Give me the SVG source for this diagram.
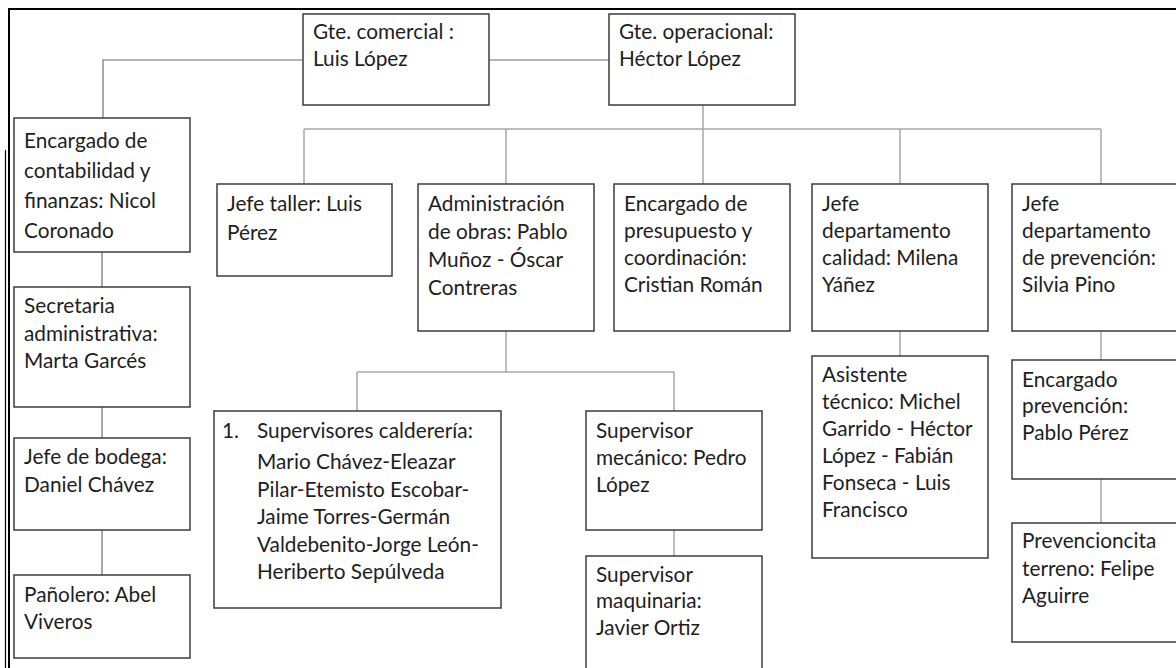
<svg xmlns="http://www.w3.org/2000/svg" width="1176" height="668" viewBox="0 0 1176 668">
<style>
.box{fill:#fff;stroke:#3c3c3c;stroke-width:1.5}
.c1{fill:none;stroke:#6e6e6e;stroke-width:1.2}
.c2{fill:none;stroke:#a8a8a8;stroke-width:1.5}
text{font-family:Lato,"Open Sans",sans-serif;font-size:20.8px;fill:#1e1e1e}
</style>
<rect width="1176" height="668" fill="#fff"/>
<g id="frame">
<line x1="8" y1="9" x2="1176" y2="9" stroke="#000" stroke-width="2"/>
<line x1="9" y1="8" x2="9" y2="668" stroke="#000" stroke-width="2"/>
<line x1="5.5" y1="150" x2="5.5" y2="668" stroke="#000" stroke-width="1.2"/>
</g>
<g id="connectors">
<path class="c1" d="M489 60H609"/>
<path class="c1" d="M303 60H103V118"/>
<path class="c1" d="M102 252V287M102 407V438M102 530V575"/>
<path class="c2" d="M703 105V184M304 129H1101M304 129V184M506 129V184M900 129V184M1101 129V184"/>
<path class="c2" d="M506 331V372M357 372H674M357 372V411M674 372V411M674 530V556"/>
<path class="c2" d="M900 331V356M1101 331V360M1101 479V523"/>
</g>
<g id="gte-comercial"><rect class="box" x="303" y="14" width="186" height="91"/><text x="313" y="39">Gte. comercial :</text><text x="313" y="66">Luis López</text></g>
<g id="gte-operacional"><rect class="box" x="609" y="14" width="186" height="91"/><text x="619" y="39">Gte. operacional:</text><text x="619" y="66">Héctor López</text></g>
<g id="contabilidad"><rect class="box" x="14" y="118" width="176" height="134"/><text x="24" y="148">Encargado de</text><text x="24" y="178">contabilidad y</text><text x="24" y="208">finanzas: Nicol</text><text x="24" y="238">Coronado</text></g>
<g id="secretaria"><rect class="box" x="14" y="287" width="176" height="120"/><text x="24" y="313">Secretaria</text><text x="24" y="341">administrativa:</text><text x="24" y="368">Marta Garcés</text></g>
<g id="bodega"><rect class="box" x="14" y="438" width="176" height="92"/><text x="24" y="464">Jefe de bodega:</text><text x="24" y="492">Daniel Chávez</text></g>
<g id="panolero"><rect class="box" x="14" y="575" width="176" height="83"/><text x="24" y="602">Pañolero: Abel</text><text x="24" y="629">Viveros</text></g>
<g id="taller"><rect class="box" x="217" y="184" width="175" height="92"/><text x="227" y="211">Jefe taller: Luis</text><text x="227" y="240">Pérez</text></g>
<g id="obras"><rect class="box" x="418" y="184" width="176" height="147"/><text x="428" y="211">Administración</text><text x="428" y="239">de obras: Pablo</text><text x="428" y="267">Muñoz - Óscar</text><text x="428" y="295">Contreras</text></g>
<g id="presupuesto"><rect class="box" x="614" y="184" width="176" height="147"/><text x="624" y="211">Encargado de</text><text x="624" y="238">presupuesto y</text><text x="624" y="265">coordinación:</text><text x="624" y="292">Cristian Román</text></g>
<g id="calidad"><rect class="box" x="812" y="184" width="176" height="147"/><text x="822" y="211">Jefe</text><text x="822" y="238">departamento</text><text x="822" y="265">calidad: Milena</text><text x="822" y="292">Yáñez</text></g>
<g id="prevencion"><rect class="box" x="1012" y="184" width="180" height="147"/><text x="1022" y="211">Jefe</text><text x="1022" y="238">departamento</text><text x="1022" y="265">de prevención:</text><text x="1022" y="292">Silvia Pino</text></g>
<g id="caldereria"><rect class="box" x="214" y="411" width="287" height="197"/><text x="222" y="438">1.</text><text x="257" y="438">Supervisores calderería:</text><text x="257" y="469">Mario Chávez-Eleazar</text><text x="257" y="497">Pilar-Etemisto Escobar-</text><text x="257" y="524">Jaime Torres-Germán</text><text x="257" y="552">Valdebenito-Jorge León-</text><text x="257" y="579">Heriberto Sepúlveda</text></g>
<g id="mecanico"><rect class="box" x="586" y="411" width="176" height="119"/><text x="596" y="438">Supervisor</text><text x="596" y="465">mecánico: Pedro</text><text x="596" y="492">López</text></g>
<g id="maquinaria"><rect class="box" x="586" y="556" width="176" height="130"/><text x="596" y="582">Supervisor</text><text x="596" y="608">maquinaria:</text><text x="596" y="635">Javier Ortiz</text></g>
<g id="asistente"><rect class="box" x="812" y="356" width="176" height="202"/><text x="822" y="382">Asistente</text><text x="822" y="409">técnico: Michel</text><text x="822" y="436">Garrido - Héctor</text><text x="822" y="463">López - Fabián</text><text x="822" y="490">Fonseca - Luis</text><text x="822" y="517">Francisco</text></g>
<g id="enc-prevencion"><rect class="box" x="1012" y="360" width="180" height="119"/><text x="1022" y="387">Encargado</text><text x="1022" y="413">prevención:</text><text x="1022" y="440">Pablo Pérez</text></g>
<g id="prevencionista"><rect class="box" x="1012" y="523" width="180" height="119"/><text x="1022" y="548">Prevencioncita</text><text x="1022" y="576">terreno: Felipe</text><text x="1022" y="603">Aguirre</text></g>
</svg>
